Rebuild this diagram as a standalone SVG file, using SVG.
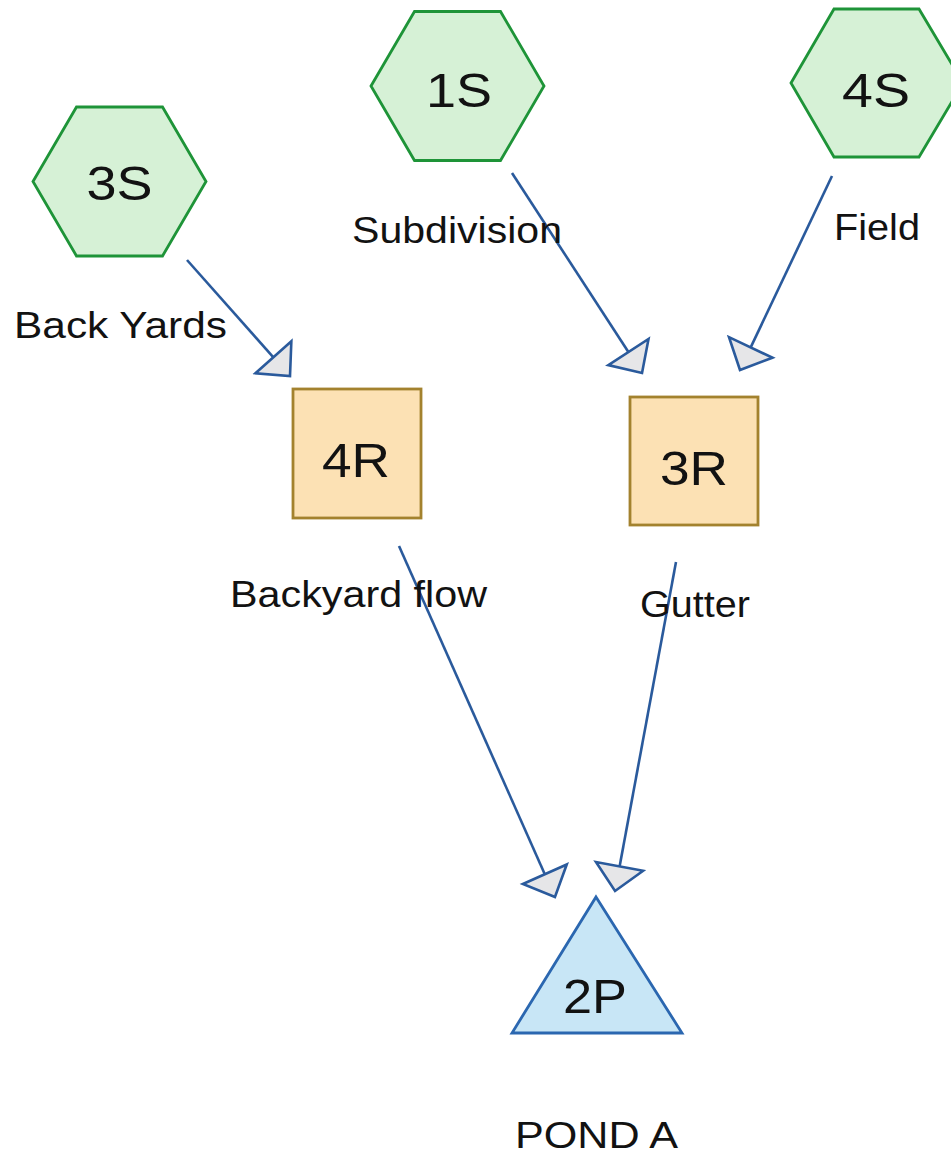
<svg xmlns="http://www.w3.org/2000/svg" width="951" height="1156" viewBox="0 0 951 1156">
  <style>
    .hex { fill: #d6f1d6; stroke: #1e9438; stroke-width: 2.8; }
    .reach { fill: #fce1b4; stroke: #a3822e; stroke-width: 2.8; }
    .pond { fill: #c8e6f6; stroke: #2b67b0; stroke-width: 2.8; }
    .id { font-family: "Liberation Sans", Arial, sans-serif; font-size: 49px; fill: #121212; text-anchor: middle; }
    .lbl { font-family: "Liberation Sans", Arial, sans-serif; font-size: 37px; fill: #121212; }
    .link { fill: none; stroke: #2a5a9c; stroke-width: 2.6; marker-end: url(#head); }
  </style>
  <defs>
    <!-- open flow arrowhead: base sits on the line end, tip 25px beyond -->
    <marker id="head" markerUnits="userSpaceOnUse" markerWidth="30" markerHeight="54" viewBox="-2 -26 30 52" refX="0" refY="0" orient="auto">
      <path d="M0,-24 L25,0 L0,24 Z" fill="#e6e6e8" stroke="#2a5a9c" stroke-width="2.6" stroke-linejoin="miter"/>
    </marker>
  </defs>
  <rect width="951" height="1156" fill="#ffffff"/>

  <!-- connectors -->
  <g id="links">
    <line class="link" x1="187" y1="260" x2="273.4" y2="357.3"/>
    <line class="link" x1="512" y1="173" x2="628.4" y2="352"/>
    <line class="link" x1="832" y1="176" x2="750.7" y2="347.4"/>
    <line class="link" x1="399" y1="546" x2="544.8" y2="874.2"/>
    <line class="link" x1="676" y1="562" x2="619.6" y2="866.4"/>
  </g>

  <!-- subcatchments -->
  <g id="node-3S">
    <polygon class="hex" points="33,181.5 76.5,107 162.5,107 206,181.5 162.5,256 76.5,256"/>
    <text class="id" x="119.5" y="200" textLength="66" lengthAdjust="spacingAndGlyphs">3S</text>
    <text class="lbl" x="14" y="338" textLength="213" lengthAdjust="spacingAndGlyphs">Back Yards</text>
  </g>
  <g id="node-1S">
    <polygon class="hex" points="371,86 414.5,11.5 500.5,11.5 544,86 500.5,160.5 414.5,160.5"/>
    <text class="id" x="459" y="107" textLength="66" lengthAdjust="spacingAndGlyphs">1S</text>
    <text class="lbl" x="352" y="243" textLength="210" lengthAdjust="spacingAndGlyphs">Subdivision</text>
  </g>
  <g id="node-4S">
    <polygon class="hex" points="791,83 834,9 919,9 963,83 919,157 834,157"/>
    <text class="id" x="876" y="107" textLength="68" lengthAdjust="spacingAndGlyphs">4S</text>
    <text class="lbl" x="834" y="240" textLength="86" lengthAdjust="spacingAndGlyphs">Field</text>
  </g>

  <!-- reaches -->
  <g id="node-4R">
    <rect class="reach" x="293" y="389" width="128" height="129"/>
    <text class="id" x="356" y="477" textLength="68" lengthAdjust="spacingAndGlyphs">4R</text>
    <text class="lbl" x="230" y="607" textLength="257" lengthAdjust="spacingAndGlyphs">Backyard flow</text>
  </g>
  <g id="node-3R">
    <rect class="reach" x="630" y="397" width="128" height="128"/>
    <text class="id" x="694" y="485" textLength="68" lengthAdjust="spacingAndGlyphs">3R</text>
    <text class="lbl" x="640" y="617" textLength="110" lengthAdjust="spacingAndGlyphs">Gutter</text>
  </g>

  <!-- pond -->
  <g id="node-2P">
    <polygon class="pond" points="596,897 682,1033 512,1033"/>
    <text class="id" x="595" y="1013" textLength="64" lengthAdjust="spacingAndGlyphs">2P</text>
    <text class="lbl" x="515" y="1148" textLength="163" lengthAdjust="spacingAndGlyphs">POND A</text>
  </g>
</svg>
